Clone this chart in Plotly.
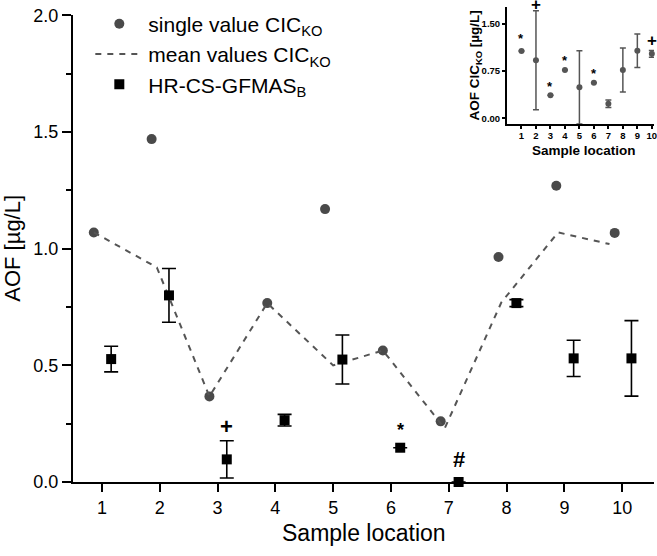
import plotly.graph_objects as go

# ---------------- data ----------------
locations = [1, 2, 3, 4, 5, 6, 7, 8, 9, 10]

# single values CIC_KO (main plot, shown slightly left of each location)
single_x = [0.86, 1.86, 2.86, 3.86, 4.86, 5.86, 6.86, 7.86, 8.86, 9.87]
single_cic = [1.07, 1.47, 0.367, 0.767, 1.17, 0.564, 0.26, 0.965, 1.27, 1.068]

# mean values CIC_KO (dashed line)
mean_x = [0.86, 1.95, 2.86, 3.86, 5.0, 5.86, 6.93, 7.91, 8.89, 9.78]
mean_cic = [1.07, 0.92, 0.367, 0.767, 0.50, 0.564, 0.23, 0.77, 1.07, 1.02]

# HR-CS-GFMAS_B (squares with error bars)
gfmas_x = [1.16, 2.16, 3.16, 4.16, 5.16, 6.16, 7.17, 8.17, 9.16, 10.16]
gfmas = [0.527, 0.80, 0.097, 0.265, 0.525, 0.147, 0.0, 0.767, 0.53, 0.53]
gfmas_err = [0.055, 0.115, 0.08, 0.025, 0.105, 0.0, 0.0, 0.015, 0.078, 0.162]

main_marks_x = [3.16, 6.16, 7.17]
main_marks_y = [0.24, 0.225, 0.095]
main_marks = ["+", "*", "#"]

# inset: mean CIC_KO with SD
inset_mean = [1.066, 0.92, 0.364, 0.765, 0.49, 0.564, 0.23, 0.765, 1.07, 1.02]
inset_sd = [0.0, 0.785, 0.0, 0.0, 0.58, 0.0, 0.06, 0.35, 0.265, 0.055]
inset_marks_x = [1, 2, 3, 4, 6, 10]
inset_marks_y = [1.26, 1.755, 0.50, 0.91, 0.71, 1.225]
inset_marks = ["*", "+", "*", "*", "*", "+"]

main_yticks = [0.0, 0.5, 1.0, 1.5, 2.0]
inset_yticks = [0.0, 0.75, 1.5]

FONT = "Liberation Sans, Arial, sans-serif"
GRAY = "#4a4a4a"

fig = go.Figure()

fig.add_trace(go.Scatter(
    x=single_x, y=single_cic, mode="markers", name="single value CIC<sub>KO</sub>",
    marker=dict(symbol="circle", size=10, color=GRAY), legendgroup="a"))
fig.add_trace(go.Scatter(
    x=mean_x, y=mean_cic, mode="lines", name="mean values CIC<sub>KO</sub>",
    line=dict(color="#555555", width=2, dash="6px,6px"), legendgroup="b"))
fig.add_trace(go.Scatter(
    x=gfmas_x, y=gfmas, mode="markers", name="HR-CS-GFMAS<sub>B</sub>",
    marker=dict(symbol="square", size=10, color="black"),
    error_y=dict(type="data", array=gfmas_err, color="black", thickness=1.6, width=7),
    legendgroup="c", cliponaxis=False))

for xx, yy, t in zip(main_marks_x, main_marks_y, main_marks):
    fig.add_annotation(x=xx, y=yy, text="<b>" + t + "</b>", showarrow=False, xref="x", yref="y",
                       font=dict(family=FONT, size=22 if t != "*" else 18, color="black"))

# inset
fig.add_trace(go.Scatter(
    x=locations, y=inset_mean, mode="markers", showlegend=False,
    marker=dict(symbol="circle", size=6, color="#555555"),
    error_y=dict(type="data", array=inset_sd, color="#555555", thickness=1.5, width=3),
    xaxis="x2", yaxis="y2", cliponaxis=False))
for xx, yy, t in zip(inset_marks_x, inset_marks_y, inset_marks):
    fig.add_annotation(x=xx, y=yy, text="<b>" + t + "</b>", showarrow=False, xref="x2", yref="y2",
                       yshift=3 if yy > 1.7 else 0,
                       font=dict(family=FONT, size=17 if t == "+" else 13, color="black"))

# axis titles
fig.add_annotation(text="Sample location", xref="paper", yref="paper", x=0.5, y=0,
                   yshift=-51, xanchor="center", yanchor="middle", showarrow=False,
                   font=dict(family=FONT, size=23, color="black"))
fig.add_annotation(text="AOF [µg/L]", xref="paper", yref="paper", x=0, y=0.489,
                   xshift=-60, textangle=-90, xanchor="center", yanchor="middle", showarrow=False,
                   font=dict(family=FONT, size=22, color="black"))
fig.add_annotation(text="<b>Sample location</b>", xref="paper", yref="paper", x=0.879, y=0.75,
                   yshift=-26, xanchor="center", yanchor="middle", showarrow=False,
                   font=dict(family=FONT, size=13.5, color="black"))
fig.add_annotation(text="<b>AOF CIC<sub>KO</sub> [µg/L]</b>", xref="paper", yref="paper", x=0.747, y=0.873,
                   xshift=-31, textangle=-90, xanchor="center", yanchor="middle", showarrow=False,
                   font=dict(family=FONT, size=13.5, color="black"))

fig.update_layout(
    width=657, height=556,
    margin=dict(l=72.7, r=3, t=5, b=73.5, autoexpand=False),
    paper_bgcolor="white", plot_bgcolor="white",
    font=dict(family=FONT, color="black"),
    showlegend=True,
    legend=dict(x=0.0298, y=1.003, xanchor="left", yanchor="top", itemwidth=48,
                font=dict(family=FONT, size=21, color="black"),
                bgcolor="rgba(0,0,0,0)", tracegroupgap=0, traceorder="grouped"),
    xaxis=dict(range=[0.5, 10.55], domain=[0, 1], tickvals=locations, automargin=False,
               showline=True, linewidth=2, linecolor="black", showgrid=False, zeroline=False,
               ticks="outside", ticklen=8, tickwidth=2, tickcolor="black",
               tickfont=dict(size=18)),
    yaxis=dict(range=[0, 2.0], domain=[0, 0.978], tickvals=main_yticks, tickformat=".1f",
               automargin=False,
               showline=True, linewidth=2, linecolor="black", showgrid=False, zeroline=False,
               ticks="outside", ticklen=9, tickwidth=2, tickcolor="black",
               minor=dict(dtick=0.25, ticks="outside", ticklen=5, tickwidth=2, tickcolor="black", showgrid=False),
               tickfont=dict(size=18)),
    xaxis2=dict(range=[0, 10.15], domain=[0.747, 1.0], anchor="y2", tickvals=locations,
                automargin=False, ticklabelstandoff=-2, ticklabeloverflow="allow",
                showline=True, linewidth=2, linecolor="black", showgrid=False, zeroline=False,
                ticks="outside", ticklen=3, tickwidth=1.5, tickcolor="black",
                tickfont=dict(size=9.5, family="Liberation Sans", weight="bold")),
    yaxis2=dict(range=[-0.095, 1.764], domain=[0.75, 0.996], anchor="x2",
                tickvals=inset_yticks, tickformat=".2f", automargin=False,
                showline=True, linewidth=2, linecolor="black", showgrid=False, zeroline=False,
                ticks="outside", ticklen=3, tickwidth=1.5, tickcolor="black",
                tickfont=dict(size=9.5, family="Liberation Sans", weight="bold")),
)

fig.write_html("out.html", config={"displayModeBar": False},
               post_script="document.body.style.margin='0px';document.body.style.padding='0px';")
